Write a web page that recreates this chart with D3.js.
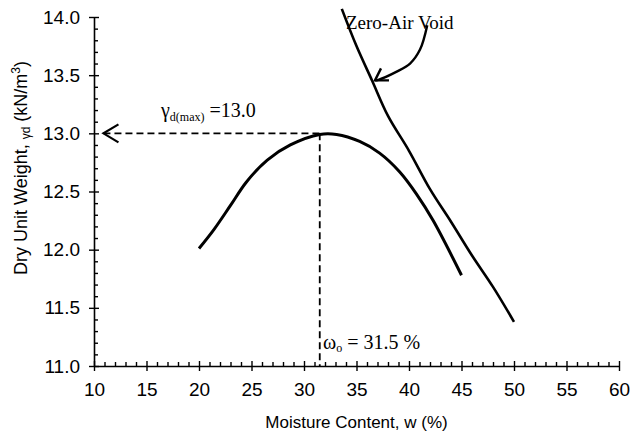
<!DOCTYPE html>
<html><head><meta charset="utf-8">
<script src="https://cdn.jsdelivr.net/npm/d3@7"></script>
<style>body{margin:0;background:#fff}svg{display:block}</style>
</head><body>
<svg id="c" width="640" height="438"></svg>
<script>
// Data
const compactionW = [20, 21.4, 23, 24.5, 26.5, 28.7, 31.5, 33.1, 35.3, 37.2, 39.1, 40.7, 42.3, 45];
const compactionG = [12.01, 12.17, 12.38, 12.58, 12.77, 12.90, 12.99, 12.99, 12.93, 12.83, 12.67, 12.48, 12.25, 11.78];
const zavW = [33.6, 35, 36.5, 38, 40, 42, 44, 46, 48, 50];
const zavG = [14.07, 13.75, 13.45, 13.15, 12.85, 12.52, 12.24, 11.95, 11.68, 11.38];
const xTicks = [10, 15, 20, 25, 30, 35, 40, 45, 50, 55, 60];
const yTicks = [11.0, 11.5, 12.0, 12.5, 13.0, 13.5, 14.0];
const optW = 31.5, maxG = 13.0;

const svg = d3.select("#c");
const x = d3.scaleLinear().domain([10, 60]).range([94, 619]);
const y = d3.scaleLinear().domain([11, 14]).range([366, 17]);
const sans = "'Liberation Sans', Arial, sans-serif";
const serif = "'Liberation Serif', 'Times New Roman', serif";

// minor ticks
const xMinor = d3.range(10, 60.01, 1).filter(v => v % 5 !== 0);
const yMinor = d3.range(110, 140.1, 1).map(v => v / 10).filter(v => Math.round(v * 10) % 5 !== 0);

const gx = svg.append("g").attr("transform", `translate(0,${y(11)})`);
gx.call(d3.axisBottom(x).tickValues(xMinor).tickSize(-4).tickFormat("").tickSizeOuter(0));
gx.call(g => g.select(".domain").remove());
const gx2 = svg.append("g").attr("transform", `translate(0,${y(11)})`)
  .call(d3.axisBottom(x).tickValues(xTicks).tickSize(5).tickSizeOuter(0).tickPadding(12).tickFormat(d3.format("d")));
gx2.selectAll(".tick line").attr("y1", -5);
gx2.selectAll("text").attr("font-family", sans).attr("font-size", 19).attr("fill", "#000");
gx2.select(".domain").attr("stroke-width", 1.6);

const gy = svg.append("g").attr("transform", `translate(${x(10)},0)`);
gy.call(d3.axisLeft(y).tickValues(yMinor).tickSize(-4).tickFormat("").tickSizeOuter(0));
gy.call(g => g.select(".domain").remove());
const gy2 = svg.append("g").attr("transform", `translate(${x(10)},0)`)
  .call(d3.axisLeft(y).tickValues(yTicks).tickSize(5).tickSizeOuter(0).tickPadding(9).tickFormat(d3.format(".1f")));
gy2.selectAll(".tick line").attr("x1", 5);
gy2.selectAll("text").attr("font-family", sans).attr("font-size", 19).attr("fill", "#000");
gy2.select(".domain").attr("stroke-width", 1.6);
svg.selectAll(".tick line").attr("stroke-width", 1.4);

// axis titles
svg.append("text").attr("x", (x(10) + x(60)) / 2).attr("y", 428).attr("text-anchor", "middle")
  .attr("font-family", sans).attr("font-size", 17).text("Moisture Content, w (%)");
const yt = svg.append("text").attr("transform", `translate(27,168) rotate(-90)`)
  .attr("text-anchor", "middle").attr("font-family", sans).attr("font-size", 18);
yt.append("tspan").text("Dry Unit Weight, ");
yt.append("tspan").text("γd").attr("font-size", 12).attr("dy", 3);
yt.append("tspan").text(" (kN/m").attr("dy", -3);
yt.append("tspan").text("3").attr("font-size", 12).attr("dy", -7);
yt.append("tspan").text(")").attr("dy", 7);

// dashed guides
svg.append("line").attr("x1", x(10.9)).attr("x2", x(optW)).attr("y1", y(maxG)).attr("y2", y(maxG))
  .attr("stroke", "#000").attr("stroke-width", 1.8).attr("stroke-dasharray", "7,4");
svg.append("line").attr("x1", x(optW)).attr("x2", x(optW)).attr("y1", y(maxG)).attr("y2", y(11))
  .attr("stroke", "#000").attr("stroke-width", 1.8).attr("stroke-dasharray", "7,4");
// arrowhead on y axis
const ah = [[x(10.9) + 15, y(maxG) - 9], [x(10.9), y(maxG)], [x(10.9) + 15, y(maxG) + 9]];
svg.append("path").attr("d", d3.line()(ah)).attr("fill", "none").attr("stroke", "#000").attr("stroke-width", 2.2);

// curves
const line = d3.line().x(d => x(d[0])).y(d => y(d[1])).curve(d3.curveCatmullRom);
svg.append("path").datum(compactionW.map((w, i) => [w, compactionG[i]])).attr("d", line)
  .attr("fill", "none").attr("stroke", "#000").attr("stroke-width", 3);
svg.append("path").datum(zavW.map((w, i) => [w, zavG[i]])).attr("d", line)
  .attr("fill", "none").attr("stroke", "#000").attr("stroke-width", 2.6);

// Zero-Air Void label and arrow
svg.append("text").attr("x", 346).attr("y", 29).attr("font-family", serif).attr("font-size", 19).text("Zero-Air Void");
const arrowPts = [[41.74, 13.93], [41.05, 13.72], [40.1, 13.60], [38.83, 13.53], [37.08, 13.46], [36.76, 13.455]];
svg.append("path").datum(arrowPts).attr("d", line).attr("fill", "none").attr("stroke", "#000").attr("stroke-width", 2.4);
const tip = [x(36.76), y(13.455)];
svg.append("path").attr("d", d3.line()([[tip[0] + 6, tip[1] - 12], tip, [tip[0] + 14, tip[1]]]))
  .attr("fill", "none").attr("stroke", "#000").attr("stroke-width", 2.4);

// annotations
const t1 = svg.append("text").attr("x", 161).attr("y", 117).attr("font-family", serif).attr("font-size", 20);
t1.append("tspan").text("γ");
t1.append("tspan").text("d(max)").attr("font-size", 12).attr("dy", 4);
t1.append("tspan").text(" =13.0").attr("dy", -4);
const t2 = svg.append("text").attr("x", 323).attr("y", 349).attr("font-family", serif).attr("font-size", 20);
t2.append("tspan").text("ω");
t2.append("tspan").text("o").attr("font-size", 12).attr("dy", 3);
t2.append("tspan").text(" = 31.5 %").attr("dy", -3);
</script>
</body></html>
